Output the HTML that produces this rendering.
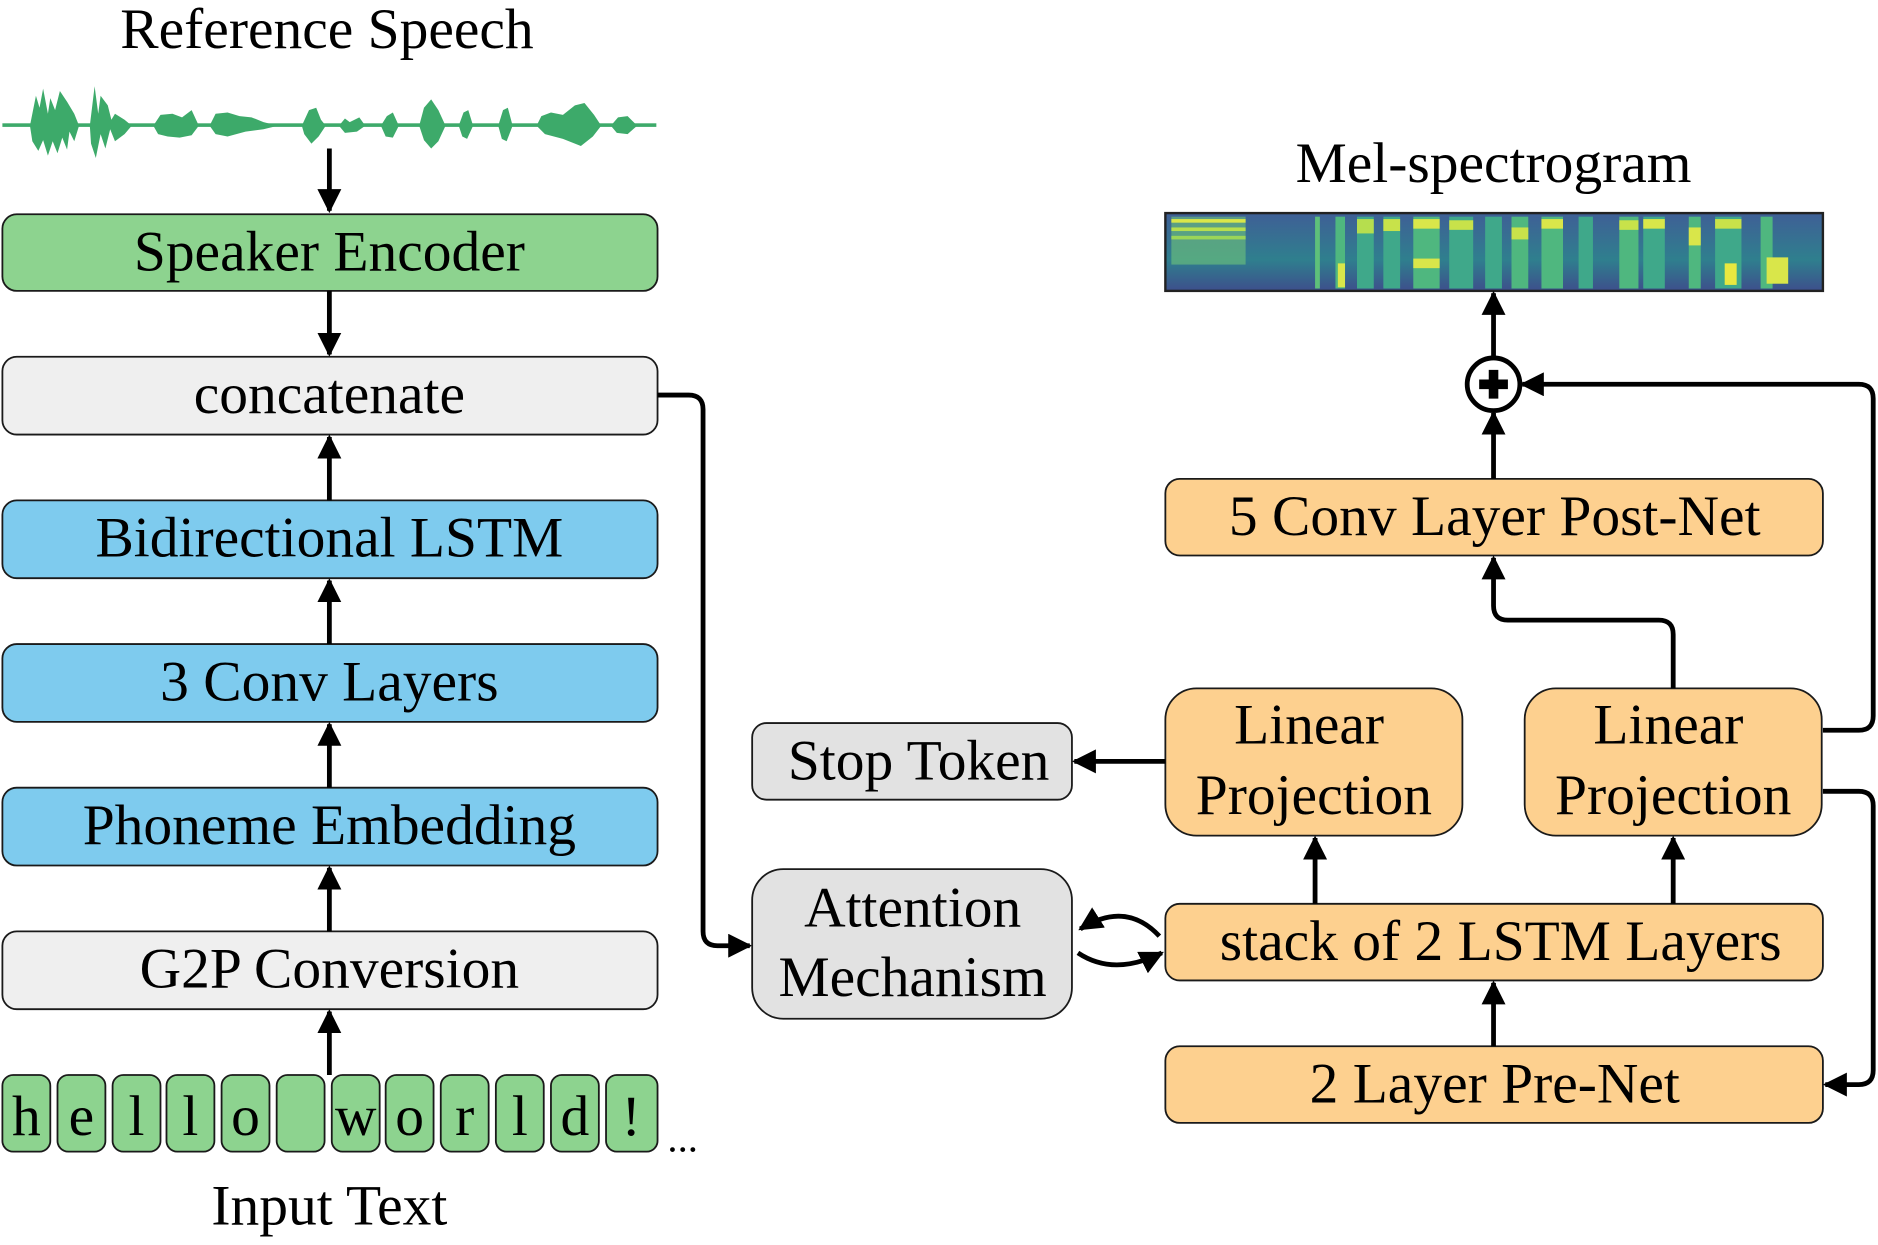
<!DOCTYPE html>
<html><head><meta charset="utf-8"><style>
html,body{margin:0;padding:0;background:#fff}
svg{display:block}
text{font-family:"Liberation Serif",serif;fill:#000}
</style></head><body>
<svg width="1878" height="1245" viewBox="0 0 1568 1040" preserveAspectRatio="none" xmlns="http://www.w3.org/2000/svg">
<defs>
<marker id="a" viewBox="0 0 10 10" refX="9" refY="5" markerWidth="5" markerHeight="5" orient="auto-start-reverse" markerUnits="strokeWidth"><path d="M0,0 L10,5 L0,10 z" fill="#000"/></marker>
<linearGradient id="sg" x1="0" y1="0" x2="0" y2="1"><stop offset="0" stop-color="#3f5f96"/><stop offset="0.6" stop-color="#2f7f8e"/><stop offset="1" stop-color="#3d4f8c"/></linearGradient>
</defs>
<g font-size="48" text-anchor="middle">
<text x="273" y="40">Reference Speech</text>
<text x="1247" y="152">Mel-spectrogram</text>
<text x="275" y="1023">Input Text</text>
</g>
<!-- waveform -->
<g fill="#3daa6a">
<rect x="2" y="103" width="546" height="3"/>
<path d="M25,105 L30,80 L33,90 L36,74 L40,95 L42,82 L46,92 L50,76 L56,85 L62,95 L66,105 L62,118 L58,110 L56,125 L52,115 L48,128 L44,118 L40,130 L36,117 L32,126 L27,118 Z"/>
<path d="M75,105 L79,72 L82,95 L84,80 L90,88 L93,100 L96,95 L104,100 L110,105 L104,112 L96,118 L92,108 L88,124 L84,112 L80,132 L76,120 Z"/>
<path d="M128,105 L134,96 L144,95 L152,98 L160,92 L166,105 L160,113 L150,115 L140,114 L132,112 Z"/>
<path d="M175,105 L180,95 L190,94 L200,97 L210,98 L220,102 L232,105 L220,108 L205,110 L190,114 L180,112 Z"/>
<path d="M252,105 L258,92 L264,90 L268,100 L272,105 L266,114 L260,120 L254,112 Z"/>
<path d="M283,105 L288,99 L292,102 L300,98 L305,105 L298,110 L288,111 Z"/>
<path d="M318,105 L323,97 L328,94 L333,105 L328,115 L322,114 Z"/>
<path d="M350,105 L354,90 L360,83 L366,92 L372,105 L366,118 L360,124 L354,117 Z"/>
<path d="M383,105 L387,94 L391,92 L395,105 L390,116 L386,114 Z"/>
<path d="M416,105 L420,92 L424,90 L428,105 L423,118 L419,116 Z"/>
<path d="M448,105 L452,97 L460,94 L470,96 L480,88 L488,86 L496,96 L502,105 L495,114 L485,122 L470,116 L455,112 Z"/>
<path d="M510,105 L516,98 L524,97 L532,105 L524,112 L515,111 Z"/>
</g>
<line x1="275" y1="124" x2="275" y2="176" stroke="#000" stroke-width="4" marker-end="url(#a)"/>
<g stroke="#1a1a1a" stroke-width="1.5">
<rect x="2" y="179" width="547" height="64" rx="12" fill="#8dd38f"/>
<rect x="2" y="298" width="547" height="65" rx="12" fill="#efefef"/>
<rect x="2" y="418" width="547" height="65" rx="12" fill="#7ecbee"/>
<rect x="2" y="538" width="547" height="65" rx="12" fill="#7ecbee"/>
<rect x="2" y="658" width="547" height="65" rx="12" fill="#7ecbee"/>
<rect x="2" y="778" width="547" height="65" rx="12" fill="#efefef"/>
</g>
<g font-size="48" text-anchor="middle">
<text x="275" y="226">Speaker Encoder</text>
<text x="275" y="345">concatenate</text>
<text x="275" y="465">Bidirectional LSTM</text>
<text x="275" y="585">3 Conv Layers</text>
<text x="275" y="705">Phoneme Embedding</text>
<text x="275" y="825">G2P Conversion</text>
</g>
<g stroke="#000" stroke-width="4" marker-end="url(#a)">
<line x1="275" y1="243" x2="275" y2="296"/>
<line x1="275" y1="418" x2="275" y2="365"/>
<line x1="275" y1="538" x2="275" y2="485"/>
<line x1="275" y1="658" x2="275" y2="605"/>
<line x1="275" y1="778" x2="275" y2="725"/>
<line x1="275" y1="898" x2="275" y2="845"/>
</g>
<g stroke="#1a1a1a" stroke-width="1.5" fill="#8dd38f">
<rect x="2" y="898" width="40" height="64" rx="9"/>
<rect x="48" y="898" width="40" height="64" rx="9"/>
<rect x="94" y="898" width="40" height="64" rx="9"/>
<rect x="139" y="898" width="40" height="64" rx="9"/>
<rect x="185" y="898" width="40" height="64" rx="9"/>
<rect x="231" y="898" width="40" height="64" rx="9"/>
<rect x="277" y="898" width="40" height="64" rx="9"/>
<rect x="322" y="898" width="40" height="64" rx="9"/>
<rect x="368" y="898" width="40" height="64" rx="9"/>
<rect x="414" y="898" width="40" height="64" rx="9"/>
<rect x="460" y="898" width="40" height="64" rx="9"/>
<rect x="506" y="898" width="43" height="64" rx="9"/>
</g>
<g font-size="48" text-anchor="middle">
<text x="22" y="948">h</text><text x="68" y="948">e</text><text x="114" y="948">l</text><text x="159" y="948">l</text><text x="205" y="948">o</text>
<text x="297" y="948">w</text><text x="342" y="948">o</text><text x="388" y="948">r</text><text x="434" y="948">l</text><text x="480" y="948">d</text><text x="527" y="948">!</text>
<text x="570" y="962" font-size="34">...</text>
</g>
<path d="M549,330 L575,330 Q587,330 587,342 L587,778 Q587,790 599,790 L626,790" fill="none" stroke="#000" stroke-width="4" marker-end="url(#a)"/>
<g stroke="#1a1a1a" stroke-width="1.5" fill="#e2e2e2">
<rect x="628" y="604" width="267" height="64" rx="12"/>
<rect x="628" y="726" width="267" height="125" rx="26"/>
</g>
<g font-size="48" text-anchor="middle">
<text x="767" y="651">Stop Token</text>
<text x="762" y="774">Attention</text>
<text x="762" y="832">Mechanism</text>
</g>
<rect x="973" y="178" width="549" height="65" fill="url(#sg)" stroke="#222" stroke-width="2"/>
<g>
<rect x="978" y="181" width="62" height="40" fill="#6fc47a" opacity="0.6"/>
<rect x="978" y="183" width="62" height="3" fill="#d9e64a"/><rect x="978" y="190" width="62" height="3" fill="#b6de4e"/><rect x="978" y="197" width="62" height="3" fill="#9ad558"/>
<rect x="1098" y="181" width="4" height="60" fill="#5ec07a"/>
<rect x="1115" y="181" width="8" height="60" fill="#4fb77f"/><rect x="1117" y="220" width="6" height="20" fill="#d9e64a"/>
<rect x="1133" y="181" width="14" height="60" fill="#3fa88a"/><rect x="1133" y="183" width="14" height="12" fill="#b6de4e"/>
<rect x="1155" y="181" width="14" height="60" fill="#3fa88a"/><rect x="1155" y="183" width="14" height="10" fill="#c8e24a"/>
<rect x="1180" y="181" width="22" height="60" fill="#4fb77f"/><rect x="1180" y="183" width="22" height="8" fill="#d9e64a"/><rect x="1180" y="216" width="22" height="8" fill="#d9e64a"/>
<rect x="1210" y="181" width="20" height="60" fill="#3fa88a"/><rect x="1210" y="184" width="20" height="8" fill="#c8e24a"/>
<rect x="1240" y="181" width="14" height="60" fill="#3fa88a"/><rect x="1262" y="181" width="14" height="60" fill="#4fb77f"/><rect x="1262" y="190" width="14" height="10" fill="#c8e24a"/>
<rect x="1287" y="181" width="18" height="60" fill="#4fb77f"/><rect x="1287" y="183" width="18" height="8" fill="#d9e64a"/>
<rect x="1318" y="181" width="12" height="60" fill="#3fa88a"/>
<rect x="1352" y="181" width="16" height="60" fill="#4fb77f"/><rect x="1352" y="184" width="16" height="8" fill="#c8e24a"/>
<rect x="1372" y="181" width="18" height="60" fill="#3fa88a"/><rect x="1372" y="183" width="18" height="8" fill="#d9e64a"/>
<rect x="1410" y="181" width="10" height="60" fill="#4fb77f"/><rect x="1410" y="190" width="10" height="15" fill="#d9e64a"/>
<rect x="1432" y="181" width="22" height="60" fill="#3fa88a"/><rect x="1432" y="183" width="22" height="8" fill="#c8e24a"/><rect x="1440" y="220" width="10" height="18" fill="#e8e840"/>
<rect x="1470" y="181" width="10" height="60" fill="#4fb77f"/><rect x="1475" y="215" width="18" height="22" fill="#d9e64a"/>
</g>
<g stroke="#1a1a1a" stroke-width="1.5" fill="#fdd08f">
<rect x="973" y="400" width="549" height="64" rx="12"/>
<rect x="973" y="575" width="248" height="123" rx="26"/>
<rect x="1273" y="575" width="248" height="123" rx="26"/>
<rect x="973" y="755" width="549" height="64" rx="12"/>
<rect x="973" y="874" width="549" height="64" rx="12"/>
</g>
<g font-size="48" text-anchor="middle">
<text x="1248" y="447">5 Conv Layer Post-Net</text>
<text x="1093" y="621">Linear</text><text x="1097" y="680">Projection</text>
<text x="1393" y="621">Linear</text><text x="1397" y="680">Projection</text>
<text x="1253" y="802">stack of 2 LSTM Layers</text>
<text x="1248" y="921">2 Layer Pre-Net</text>
</g>
<circle cx="1247" cy="321" r="22" fill="#fff" stroke="#000" stroke-width="4"/>
<path d="M1247,309 V333 M1235,321 H1259" stroke="#000" stroke-width="8"/>
<g stroke="#000" stroke-width="4" fill="none" marker-end="url(#a)">
<line x1="1247" y1="298" x2="1247" y2="245"/>
<line x1="1247" y1="400" x2="1247" y2="345"/>
<path d="M1522,610 L1552,610 Q1564,610 1564,598 L1564,333 Q1564,321 1552,321 L1271,321"/>
<path d="M1397,575 L1397,530 Q1397,518 1385,518 L1259,518 Q1247,518 1247,506 L1247,466"/>
<line x1="973" y1="636" x2="897" y2="636"/>
<line x1="1098" y1="755" x2="1098" y2="700"/>
<line x1="1397" y1="755" x2="1397" y2="700"/>
<line x1="1247" y1="874" x2="1247" y2="821"/>
<path d="M1522,661 L1552,661 Q1564,661 1564,673 L1564,894 Q1564,906 1552,906 L1524,906"/>
<path d="M968,782 Q940,752 902,776"/>
<path d="M900,796 Q930,816 970,796"/>
</g>
</svg>
</body></html>
